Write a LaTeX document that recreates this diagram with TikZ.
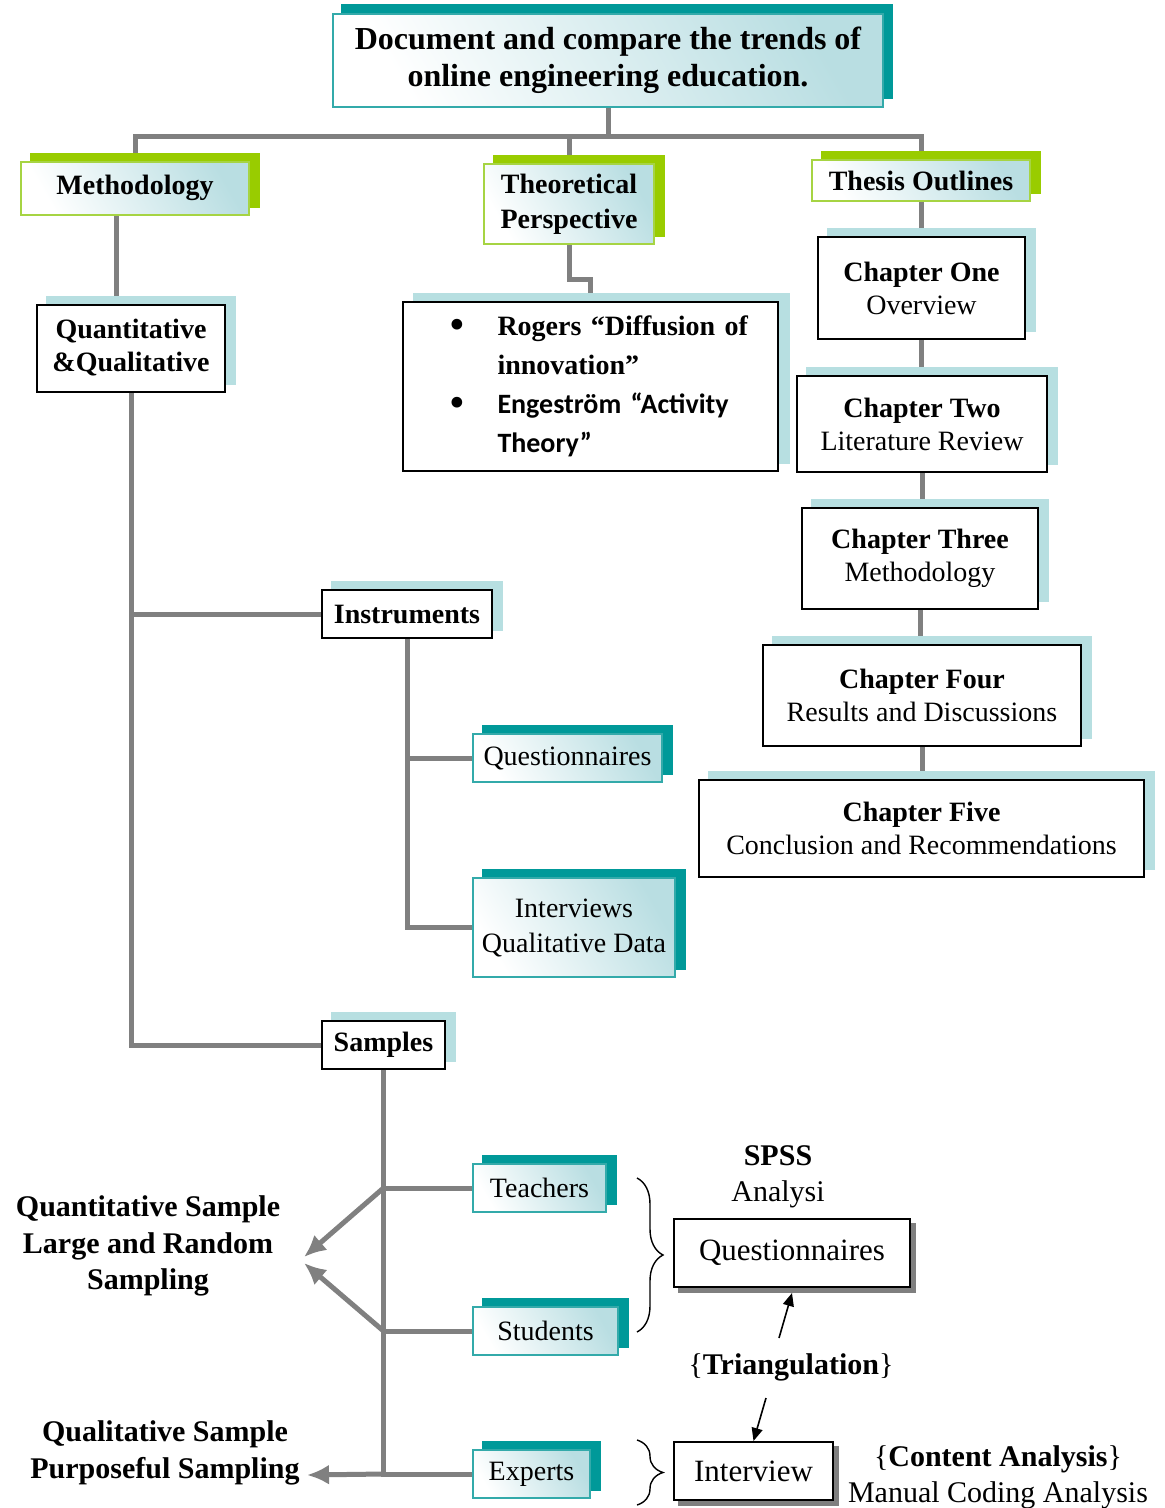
\documentclass[tikz,border=0pt]{standalone}
\usepackage{fontspec}
\setmainfont{Liberation Serif}
\newfontfamily\carlito{Carlito}
\usetikzlibrary{arrows.meta,calc,decorations.pathreplacing}
\definecolor{tealS}{HTML}{009999}
\definecolor{tealB}{HTML}{33AAAA}
\definecolor{grnS}{HTML}{99CC00}
\definecolor{grnB}{HTML}{A6D443}
\definecolor{blueS}{HTML}{B7DFE1}
\definecolor{gradB}{HTML}{B9DEE2}
\definecolor{lineG}{HTML}{808080}
\definecolor{shadG}{HTML}{7F7F7F}
\pgfdeclarelayer{lines}
\pgfdeclarelayer{shads}
\pgfsetlayers{lines,shads,main}
\newcommand\myshad[4]{%
  \begin{pgfonlayer}{shads}
  \fill[#2] ($(#1.south west)+(#3,#4)$) rectangle ($(#1.north east)+(#3,#4)$);
  \end{pgfonlayer}}
\newcommand\mybul{\makebox[72pt][l]{\hspace{24pt}\raisebox{-4pt}{\scalebox{1.6}{\textbullet}}}}
\begin{document}
\begin{tikzpicture}[x=1pt,y=-1pt,
  every node/.style={inner sep=0pt, align=center},
  gradfill/.style={left color=white, right color=gradB, shading angle=120},
  gbox/.style={draw=grnB, line width=2pt, gradfill, font=\fontsize{28}{35}\selectfont\bfseries},
  tbox/.style={draw=tealB, line width=2pt, gradfill, font=\fontsize{28}{35}\selectfont},
  kbox/.style={draw=black, line width=2pt, fill=white, font=\fontsize{28}{33}\selectfont},
  conn/.style={draw=lineG, line width=5pt},
  garrow/.style={draw=lineG, line width=5pt, -{Latex[length=22pt,width=20pt]}},
  karrow/.style={draw=black, line width=1.6pt, -{Triangle[length=13pt,width=11pt]}},
  lbl/.style={font=\fontsize{30}{36.5}\selectfont\bfseries},
  rlbl/.style={font=\fontsize{30}{36}\selectfont},
  brc/.style={draw=black, line width=1.4pt, decorate, decoration={brace, amplitude=26pt}}
]
\useasboundingbox (0,0) rectangle (1165,1508);

% ---------- top ----------
\node[draw=tealB, line width=2pt, gradfill, minimum width=550pt, minimum height=93pt,
      font=\fontsize{32}{37}\selectfont\bfseries] (top) at (608,60)
      {Document and compare the trends of\\online engineering education.};
\myshad{top}{tealS}{9}{-9}

% ---------- level 1 ----------
\node[gbox, minimum width=228pt, minimum height=53pt] (meth) at (135,188) {Methodology};
\myshad{meth}{grnS}{10}{-8}
\node[gbox, minimum width=170pt, minimum height=80pt] (theo) at (569,204) {Theoretical\\Perspective};
\myshad{theo}{grnS}{10}{-8}
\node[gbox, minimum width=218pt, minimum height=41pt] (thesis) at (921,180.5) {Thesis Outlines};
\myshad{thesis}{grnS}{10}{-8}

% ---------- methodology branch ----------
\node[kbox, minimum width=188pt, minimum height=87pt, font=\fontsize{28}{33}\selectfont\bfseries] (quant) at (131,348) {Quantitative\\\&Qualitative};
\myshad{quant}{blueS}{10}{-8}

\node[kbox, minimum width=375pt, minimum height=169pt, text width=330pt, align=left,
      font=\fontsize{28}{39}\selectfont] (rogers) at (590.5,386.5) {%
\mybul\textbf{Rogers “Diffusion of}\\
\hspace*{72pt}\textbf{innovation”}\\
\mybul{\carlito\bfseries Engeström “Activity}\\
\hspace*{72pt}{\carlito\bfseries Theory”}};
\myshad{rogers}{blueS}{11}{-8}

% ---------- chapters ----------
\node[kbox, minimum width=207pt, minimum height=102pt] (ch1) at (921.5,288) {\textbf{Chapter One}\\Overview};
\myshad{ch1}{blueS}{10}{-8}
\node[kbox, minimum width=250pt, minimum height=96pt] (ch2) at (922,424) {\textbf{Chapter Two}\\Literature Review};
\myshad{ch2}{blueS}{10}{-8}
\node[kbox, minimum width=236pt, minimum height=101pt] (ch3) at (920,558.5) {\textbf{Chapter Three}\\Methodology};
\myshad{ch3}{blueS}{10}{-8}
\node[kbox, minimum width=318pt, minimum height=101pt] (ch4) at (922,695.5) {\textbf{Chapter Four}\\Results and Discussions};
\myshad{ch4}{blueS}{10}{-8}
\node[kbox, minimum width=445pt, minimum height=97pt] (ch5) at (921.5,828.5) {\textbf{Chapter Five}\\Conclusion and Recommendations};
\myshad{ch5}{blueS}{10}{-8}

% ---------- instruments ----------
\node[kbox, minimum width=170pt, minimum height=48pt, font=\fontsize{28}{33}\selectfont\bfseries] (instr) at (407,614) {Instruments};
\myshad{instr}{blueS}{10}{-8}
\node[tbox, minimum width=189pt, minimum height=48pt] (quest) at (567.5,758) {Questionnaires};
\myshad{quest}{tealS}{10}{-8}
\node[tbox, minimum width=202pt, minimum height=99pt] (interv) at (574,927.5) {Interviews\\Qualitative Data};
\myshad{interv}{tealS}{10}{-8}

% ---------- samples ----------
\node[kbox, minimum width=123pt, minimum height=48pt, font=\fontsize{28}{33}\selectfont\bfseries] (samples) at (383.5,1045) {Samples};
\myshad{samples}{blueS}{10}{-8}
\node[tbox, minimum width=133pt, minimum height=48pt] (teach) at (539.5,1188) {Teachers};
\myshad{teach}{tealS}{10}{-8}
\node[tbox, minimum width=145pt, minimum height=48pt] (stud) at (545.5,1331) {Students};
\myshad{stud}{tealS}{10}{-8}
\node[tbox, minimum width=117pt, minimum height=48pt] (expert) at (531.5,1474) {Experts};
\myshad{expert}{tealS}{10}{-8}

\node[lbl] (qsamp) at (148,1246) {Quantitative Sample\\Large and Random\\Sampling};
\node[lbl] (psamp) at (165,1453) {Qualitative Sample\\Purposeful Sampling};
\coordinate (qa1) at (304,1257);
\coordinate (qa2) at (304,1263);
\coordinate (pa) at (307,1475);

% ---------- analysis ----------
\node[rlbl] (spss) at (778,1177) {\textbf{SPSS}\\Analysi};
\node[kbox, minimum width=236pt, minimum height=68pt, font=\fontsize{31}{36}\selectfont] (q2) at (792,1253) {Questionnaires};
\myshad{q2}{shadG}{5}{5}
\node[rlbl] (tri) at (791,1367) {\{\textbf{Triangulation}\}};
\node[kbox, minimum width=159pt, minimum height=58pt, font=\fontsize{31}{36}\selectfont] (intv2) at (753.5,1471) {Interview};
\myshad{intv2}{shadG}{5}{5}
\node[rlbl] (content) at (998,1477) {\{\textbf{Content Analysis}\}\\Manual Coding Analysis};
\coordinate (ta1) at (779,1338);
\coordinate (ta2) at (766,1398);
\coordinate (b1s) at (637,1178);
\coordinate (b1e) at (637,1332);
\coordinate (b2s) at (637,1440);
\coordinate (b2e) at (637,1505);

% ---------- connectors ----------
\begin{pgfonlayer}{lines}
\coordinate (hub) at (608,136);
\draw[conn] (top.south) -- (hub);
\draw[conn] (meth.north) |- (hub);
\draw[conn] (theo.north) |- (hub);
\draw[conn] (thesis.north) |- (hub);
\draw[conn] ([xshift=-19pt]meth.south) -- ([xshift=-19pt]meth.south |- quant.north);
\draw[conn] (theo.south) -- ++(0,34) -| (rogers.north);
\draw[conn] (thesis.south) -- (thesis.south |- ch1.north);
\draw[conn] (ch1.south) -- (ch1.south |- ch2.north);
\draw[conn] (ch2.south) -- (ch2.south |- ch3.north);
\draw[conn] (ch3.south) -- (ch3.south |- ch4.north);
\draw[conn] (ch4.south) -- (ch4.south |- ch5.north);
\draw[conn] (quant.south) |- (samples.west);
\draw[conn] (quant.south |- instr.west) -- (instr.west);
\draw[conn] (instr.south) |- (quest.west);
\draw[conn] (instr.south) |- (interv.west);
\draw[conn] (samples.south) |- (expert.west);
\draw[conn] (samples.south |- teach.west) -- (teach.west);
\draw[conn] (samples.south |- stud.west) -- (stud.west);
\end{pgfonlayer}
\draw[garrow] (samples.south |- teach.west) -- (qa1);
\draw[garrow] (samples.south |- stud.west) -- (qa2);
\draw[garrow] (samples.south |- expert.west) -- (pa);
\draw[karrow] (ta1) -- ([yshift=-5pt]q2.south);
\draw[karrow] (ta2) -- (intv2.north);
\draw[brc] (b1s) -- (b1e);
\draw[brc] (b2s) -- (b2e);
\end{tikzpicture}
\end{document}
